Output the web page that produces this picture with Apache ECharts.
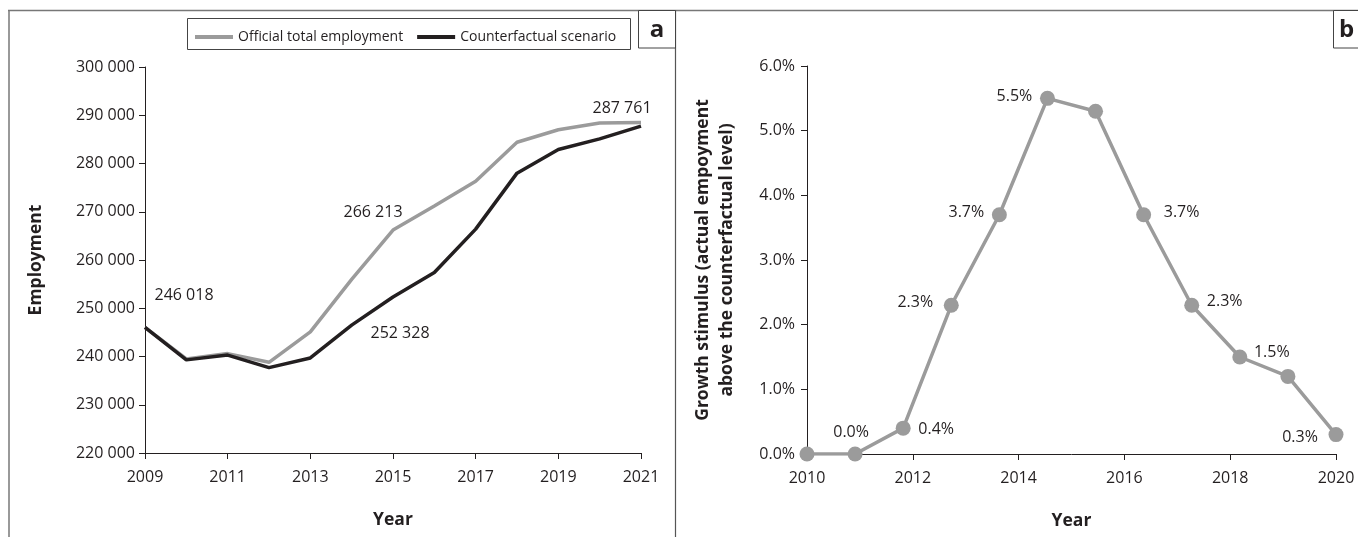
<!DOCTYPE html>
<html>
<head>
<meta charset="utf-8">
<script src="https://cdn.jsdelivr.net/npm/echarts@6/dist/echarts.min.js"></script>
<style>
  html, body { margin: 0; padding: 0; background: #fff; }
  #chart { width: 1358px; height: 537px; }
</style>
</head>
<body>
<div id="chart"></div>
<script>
// Panel a: employment, official vs counterfactual
const years = ['2009', '2010', '2011', '2012', '2013', '2014', '2015', '2016', '2017', '2018', '2019', '2020', '2021'];
const officialEmployment = [246018, 239500, 240600, 238800, 245100, 256000, 266213, 271200, 276300, 284400, 287000, 288400, 288500];
const counterfactualEmployment = [246018, 239300, 240300, 237700, 239700, 246500, 252328, 257400, 266400, 278000, 282900, 285100, 287761];
const employmentTicks = [220000, 230000, 240000, 250000, 260000, 270000, 280000, 290000, 300000];

// Panel b: growth stimulus, % above counterfactual
const stimulusPeriods = ['2010', '2011', '2012', '2013', '2014', '2015', '2016', '2017', '2018', '2019', '2020', '2021'];
const stimulusPct = [0.0, 0.0, 0.4, 2.3, 3.7, 5.5, 5.3, 3.7, 2.3, 1.5, 1.2, 0.3];
const stimulusYearTicks = [2010, 2012, 2014, 2016, 2018, 2020];

const FONT = '"Open Sans", "Noto Sans", sans-serif';
const INK = '#231f20';
const GREY = '#9b9b9b';

function spaced(n) {
  return String(n).replace(/\B(?=(\d{3})+(?!\d))/g, ' ');
}

// label placement (pixel offsets from the point)
const officialLabels = { 6: [-20, -18] };
const counterLabels = { 0: [39, -32], 6: [7, 36], 12: [-19, -18] };
const stimulusLabels = { 1: [-4, -22], 2: [33, 1], 3: [-36, -3], 4: [-33, -2], 5: [-33, -2],
                         7: [38, -2], 8: [33, -4], 9: [32, -5], 11: [-36, 3] };

function withLabels(values, offsets, fmt) {
  return values.map((v, i) => {
    if (!(i in offsets)) return { value: v, label: { show: false } };
    return {
      value: v,
      label: {
        show: true, position: 'inside', offset: offsets[i],
        formatter: () => fmt(v),
        color: INK, fontFamily: FONT, fontSize: 16
      }
    };
  });
}

const axisText = { color: INK, fontFamily: FONT, fontSize: 16 };
const axisLine = { show: true, lineStyle: { color: INK, width: 1 } };
const axisTick = { show: true, length: 6, lineStyle: { color: INK, width: 1 } };
const nameText = { color: INK, fontFamily: FONT, fontSize: 17.5, fontWeight: 'bold' };

const chart = echarts.init(document.getElementById('chart'), null, { renderer: 'canvas' });

chart.setOption({
  animation: false,
  backgroundColor: '#fff',
  grid: [
    { left: 145, right: 717, top: 67, bottom: 84 },
    { left: 807, right: 22, top: 66, bottom: 83 }
  ],
  legend: {
    left: 190, top: 25,
    itemWidth: 38, itemHeight: 4, itemGap: 14,
    icon: 'rect',
    data: ['Official total employment', 'Counterfactual scenario'],
    textStyle: { color: INK, fontFamily: FONT, fontSize: 14 }
  },
  xAxis: [
    {
      gridIndex: 0, type: 'category', data: years, boundaryGap: false,
      name: 'Year', nameLocation: 'middle', nameGap: 58, nameTextStyle: nameText,
      axisLine, axisTick: Object.assign({ interval: 1 }, axisTick),
      axisLabel: Object.assign({ interval: 1, margin: 16 }, axisText),
      splitLine: { show: false }
    },
    {
      gridIndex: 1, type: 'category', data: stimulusPeriods, boundaryGap: false,
      axisLine: { show: false }, axisTick: { show: false }, axisLabel: { show: false },
      splitLine: { show: false }
    },
    {
      gridIndex: 1, type: 'value', position: 'bottom', min: 2010, max: 2020, interval: 2,
      name: 'Year', nameLocation: 'middle', nameGap: 58, nameTextStyle: nameText,
      axisLine, axisTick,
      axisLabel: Object.assign({ margin: 16, customValues: stimulusYearTicks, formatter: v => String(v) }, axisText),
      splitLine: { show: false }
    }
  ],
  yAxis: [
    {
      gridIndex: 0, type: 'value',
      min: employmentTicks[0], max: employmentTicks[employmentTicks.length - 1], interval: 10000,
      name: 'Employment', nameLocation: 'middle', nameGap: 100, nameRotate: 90, nameTextStyle: nameText,
      axisLine, axisTick,
      axisLabel: Object.assign({ margin: 10, formatter: v => spaced(v) }, axisText),
      splitLine: { show: false }
    },
    {
      gridIndex: 1, type: 'value', min: 0, max: 6, interval: 1,
      name: 'Growth stimulus (actual empoyment\nabove the counterfactual level)',
      nameLocation: 'middle', nameGap: 68, nameRotate: 90,
      nameTextStyle: Object.assign({ lineHeight: 24 }, nameText),
      axisLine, axisTick,
      axisLabel: Object.assign({ margin: 12, formatter: v => v.toFixed(1) + '%' }, axisText),
      splitLine: { show: false }
    }
  ],
  series: [
    {
      name: 'Official total employment', type: 'line', xAxisIndex: 0, yAxisIndex: 0,
      data: withLabels(officialEmployment, officialLabels, spaced),
      symbol: 'circle', symbolSize: 0, showSymbol: true,
      lineStyle: { color: GREY, width: 3.5 }, itemStyle: { color: GREY },
      z: 2
    },
    {
      name: 'Counterfactual scenario', type: 'line', xAxisIndex: 0, yAxisIndex: 0,
      data: withLabels(counterfactualEmployment, counterLabels, spaced),
      symbol: 'circle', symbolSize: 0, showSymbol: true,
      lineStyle: { color: INK, width: 3.5 }, itemStyle: { color: INK },
      z: 3
    },
    {
      name: 'Growth stimulus', type: 'line', xAxisIndex: 1, yAxisIndex: 1,
      data: withLabels(stimulusPct, stimulusLabels, v => v.toFixed(1) + '%'),
      symbol: 'circle', symbolSize: 15, showSymbol: true,
      lineStyle: { color: GREY, width: 3.5 }, itemStyle: { color: GREY },
      z: 3
    }
  ],
  graphic: [
    // outer frame and panel divider
    { type: 'line', shape: { x1: 8, y1: 10.5, x2: 1358, y2: 10.5 }, style: { stroke: '#777', lineWidth: 1.5 }, silent: true },
    { type: 'line', shape: { x1: 9, y1: 10, x2: 9, y2: 537 }, style: { stroke: '#777', lineWidth: 1.5 }, silent: true },
    { type: 'line', shape: { x1: 675.5, y1: 10, x2: 675.5, y2: 537 }, style: { stroke: '#555', lineWidth: 1.2 }, silent: true },
    // legend box
    { type: 'rect', shape: { x: 187.5, y: 18.5, width: 443, height: 31 }, style: { fill: 'none', stroke: '#444', lineWidth: 1 }, silent: true },
    // panel tags
    { type: 'rect', shape: { x: 638.5, y: 10.5, width: 37, height: 37.5 }, style: { fill: '#fff', stroke: '#444', lineWidth: 1 }, silent: true },
    { type: 'text', x: 657, y: 30, style: { text: 'a', fontFamily: FONT, fontSize: 24, fontWeight: 'bold', fill: INK, align: 'center', verticalAlign: 'middle' }, silent: true },
    { type: 'rect', shape: { x: 1333.5, y: 10.5, width: 40, height: 37.5 }, style: { fill: '#fff', stroke: '#444', lineWidth: 1 }, silent: true },
    { type: 'text', x: 1339, y: 30, style: { text: 'b', fontFamily: FONT, fontSize: 24, fontWeight: 'bold', fill: INK, align: 'left', verticalAlign: 'middle' }, silent: true }
  ]
});
</script>
</body>
</html>
